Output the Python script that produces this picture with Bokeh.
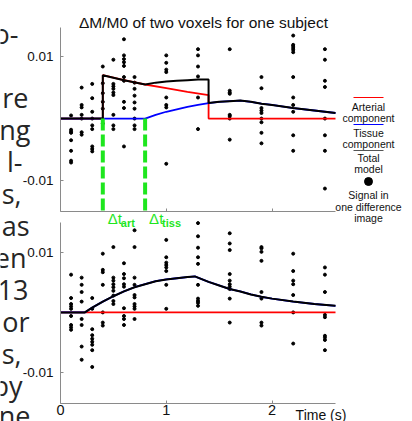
from bokeh.plotting import figure
from bokeh.models import FixedTicker, Label, LinearAxis, Range1d
from bokeh.embed import file_html
from bokeh.resources import INLINE

# ---------------- data ----------------
time_points = [0.1, 0.2, 0.3, 0.4, 0.5, 0.6, 0.7, 1.0, 1.3, 1.6, 1.9, 2.2, 2.5]

top_signal = [
    [0.0005, -0.0018, -0.0021, -0.0023, -0.0035, -0.0052, -0.0068, -0.0071],
    [0.0050, 0.0022, 0.0018, 0.0006, 0.0000, -0.0022, -0.0026],
    [0.0056, 0.0033, 0.0011, 0.0000, -0.0011, -0.0017, -0.0045, -0.0049, -0.0053],
    [0.0084, 0.0057, 0.0041, 0.0027, 0.0016, -0.0008],
    [0.0095, 0.0056, 0.0052, 0.0048, 0.0042, 0.0038, 0.0006, -0.0011, -0.0017],
    [0.0128, 0.0102, 0.0096, 0.0091, 0.0085, 0.0067, 0.0061, 0.0027, 0.0017, -0.0045],
    [0.0067, 0.0058, 0.0048, 0.0037, 0.0026, 0.0016, 0.0000, -0.0011, -0.0017],
    [0.0102, 0.0090, 0.0079, 0.0075, 0.0034, 0.0022, 0.0018, -0.0073],
    [0.0112, 0.0102, 0.0084, 0.0068, 0.0034, -0.0017],
    [0.0112, 0.0045, 0.0042, 0.0040, 0.0006, 0.0004, 0.0000, -0.0034],
    [0.0067, 0.0049, 0.0017, 0.0013, 0.0009, 0.0000, -0.0006, -0.0023, -0.0040],
    [0.0134, 0.0119, 0.0117, 0.0114, 0.0111, 0.0107, 0.0067, 0.0034, 0.0022, 0.0011, -0.0027, -0.0052],
    [0.0112, 0.0095, 0.0061, 0.0051, 0.0000, -0.0027, -0.0052, -0.0113],
]

bottom_signal = [
    [0.0063, 0.0024, 0.0014, 0.0010, 0.0006, -0.0006, -0.0021, -0.0025, -0.0029],
    [0.0058, 0.0046, 0.0034, 0.0018, -0.0011, -0.0021, -0.0057, -0.0079],
    [0.0024, 0.0006, -0.0028, -0.0038, -0.0044, -0.0049, -0.0054, -0.0063, -0.0091],
    [0.0098, 0.0071, 0.0067, 0.0046, 0.0000, -0.0017, -0.0022],
    [0.0109, 0.0058, 0.0053, 0.0047, 0.0042, 0.0036, 0.0028, 0.0019, 0.0014],
    [0.0082, 0.0064, 0.0057, 0.0047, 0.0043, 0.0007, -0.0006, -0.0011, -0.0021],
    [0.0137, 0.0109, 0.0058, 0.0046, 0.0029, 0.0025, 0.0014, 0.0010, 0.0006, -0.0011],
    [0.0121, 0.0092, 0.0083, 0.0079, 0.0075, 0.0069, 0.0046, 0.0006],
    [0.0149, 0.0127, 0.0108, 0.0092, 0.0081, 0.0046, 0.0023, 0.0019, 0.0016, 0.0011],
    [0.0132, 0.0115, 0.0104, 0.0064, 0.0053, 0.0047, 0.0043, 0.0039, 0.0023, -0.0017],
    [0.0109, 0.0107, 0.0101, 0.0086, 0.0034, 0.0023, -0.0017, -0.0022],
    [0.0098, 0.0069, 0.0053, 0.0047, 0.0029, 0.0000, -0.0052],
    [0.0075, 0.0063, 0.0034, -0.0004, -0.0008, -0.0039, -0.0042, -0.0046, -0.0063],
]

dt_art = 0.4
dt_tiss = 0.8

top_art_t = [0, 0.4, 0.4, 0.6, 0.8, 1.0, 1.2, 1.4, 1.4, 2.6]
top_art = [0, 0, 0.0070, 0.0062, 0.0055, 0.0049, 0.0043, 0.0038, 0, 0]

top_tiss_t = [0, 0.8, 0.9, 1.0, 1.1, 1.2, 1.3, 1.4, 1.5, 1.6, 1.7, 1.8, 1.9, 2.0, 2.2, 2.4, 2.6]
top_tiss = [0, 0, 0.0006, 0.0011, 0.0015, 0.0019, 0.0022, 0.0025, 0.0027, 0.0028,
            0.0029, 0.0027, 0.0024, 0.0022, 0.0017, 0.0013, 0.0009]

top_total_t = [0, 0.4, 0.4, 0.6, 0.8, 0.9, 1.0, 1.1, 1.2, 1.3, 1.4, 1.4,
               1.5, 1.6, 1.7, 1.8, 1.9, 2.0, 2.2, 2.4, 2.6]
top_total = [0, 0, 0.0070, 0.0062, 0.0055, 0.0058, 0.0060, 0.0061, 0.0062, 0.0063, 0.0063, 0.0025,
             0.0027, 0.0028, 0.0029, 0.0027, 0.0024, 0.0022, 0.0017, 0.0013, 0.0009]

bot_art_t = [0, 2.6]
bot_art = [0, 0]

bot_tiss_t = [0, 0.23, 0.3, 0.4, 0.5, 0.6, 0.7, 0.8, 0.9, 1.0, 1.1, 1.2, 1.27,
              1.4, 1.5, 1.6, 1.7, 1.8, 1.9, 2.0, 2.2, 2.4, 2.6]
bot_tiss = [0, 0, 0.0008, 0.0018, 0.0027, 0.0035, 0.0042, 0.0047, 0.0052, 0.0055, 0.0057, 0.0059, 0.0060,
            0.0051, 0.0045, 0.0039, 0.0035, 0.0030, 0.0026, 0.0023, 0.0018, 0.0014, 0.0011]

bot_total_t = [0, 0.23, 0.3, 0.4, 0.5, 0.6, 0.7, 0.8, 0.9, 1.0, 1.1, 1.2, 1.27,
               1.4, 1.5, 1.6, 1.7, 1.8, 1.9, 2.0, 2.2, 2.4, 2.6]
bot_total = [0, 0, 0.0008, 0.0018, 0.0027, 0.0035, 0.0042, 0.0047, 0.0052, 0.0055, 0.0057, 0.0059, 0.0060,
             0.0051, 0.0045, 0.0039, 0.0035, 0.0030, 0.0026, 0.0023, 0.0018, 0.0014, 0.0011]

y_tick_values = [-0.01, 0.01]
x_tick_values = [0, 1, 2]

title_text = "\u0394M/M0 of two voxels for one subject"
x_label_text = "Time (s)"
legend_texts = ["Arterial", "component", "Tissue", "component", "Total", "model",
                "Signal in", "one difference", "image"]

# fragments of the slide text that is cropped at the left edge
fragments = ["o-", "re", "ng", "l-", "s,", "as", "en", "13", "or", "s,", "by", "ne"]

# ---------------- layout (page pixels) ----------------
W, H = 412, 421
T0, T1 = 0.0, 2.6                       # time range of both plots
PX_T0, PX_T1 = 60, 335                  # page x of t = 0 and t = 2.6
TOP_Y0, TOP_Y1 = -0.0150, 0.0147        # top plot value range
PY_TOP0, PY_TOP1 = 211, 27              # page y of its bottom / top
BOT_Y0, BOT_Y1 = -0.0152, 0.0150        # bottom plot value range
PY_BOT0, PY_BOT1 = 403, 222
AXIS_GRAY = "#8a8a8a"
GREEN = "#1ee61e"
FONT = "Liberation Sans"


def page_range(v0, v1, p0, p1, lo, hi):
    """Range whose values v0/v1 land on page pixels p0/p1 of a canvas spanning lo..hi."""
    k = (v1 - v0) / (p1 - p0)
    return Range1d(v0 + (lo - p0) * k, v0 + (hi - p0) * k)


p = figure(width=W, height=H, x_range=Range1d(0, W), y_range=Range1d(H, 0),
           x_axis_location=None, y_axis_location=None, output_backend="svg",
           toolbar_location=None, title=None, min_border=0)
p.grid.visible = False
p.outline_line_color = None
p.background_fill_color = "white"
p.border_fill_color = "white"

p.extra_x_ranges = {"t": page_range(T0, T1, PX_T0, PX_T1, 0, W)}
p.extra_y_ranges = {
    "top": page_range(TOP_Y0, TOP_Y1, PY_TOP0, PY_TOP1, H, 0),
    "bot": page_range(BOT_Y0, BOT_Y1, PY_BOT0, PY_BOT1, H, 0),
}


def style_axis(ax):
    ax.axis_line_color = AXIS_GRAY
    ax.major_tick_line_color = AXIS_GRAY
    ax.major_tick_in = 3
    ax.major_tick_out = 0
    ax.minor_tick_line_color = None
    ax.major_label_text_font = FONT
    ax.major_label_text_color = "#111111"


for rname, y0, y1, show_x in [("top", TOP_Y0, TOP_Y1, False), ("bot", BOT_Y0, BOT_Y1, True)]:
    yax = LinearAxis(x_range_name="t", y_range_name=rname, fixed_location=T0, bounds=(y0, y1),
                     ticker=FixedTicker(ticks=y_tick_values))
    style_axis(yax)
    yax.major_label_overrides = {v: ("%g" % v) for v in y_tick_values}
    yax.major_label_text_font_size = "13.5px"
    yax.major_label_standoff = 7
    p.add_layout(yax, "left")

    xax = LinearAxis(x_range_name="t", y_range_name=rname, fixed_location=y0, bounds=(T0, T1),
                     ticker=FixedTicker(ticks=x_tick_values))
    style_axis(xax)
    xax.major_label_text_font_size = "14.5px"
    xax.major_label_standoff = 1
    if not show_x:
        xax.major_label_text_color = None
    p.add_layout(xax, "below")


def flatten(times, cols):
    xs, ys = [], []
    for t, col in zip(times, cols):
        for v in col:
            xs.append(t)
            ys.append(v)
    return xs, ys


# ---------------- top plot ----------------
txs, tys = flatten(time_points, top_signal)
p.scatter(txs, tys, size=3, color="black", marker="circle", x_range_name="t", y_range_name="top")
p.line(top_art_t, top_art, line_color="red", line_width=1.8, x_range_name="t", y_range_name="top")
p.line(top_tiss_t, top_tiss, line_color="blue", line_width=1.8, x_range_name="t", y_range_name="top")
p.line(top_total_t, top_total, line_color="black", line_width=2, x_range_name="t", y_range_name="top")
p.segment(x0=[dt_art, dt_tiss], y0=[0, 0], x1=[dt_art, dt_tiss], y1=[TOP_Y0, TOP_Y0],
          line_color=GREEN, line_width=4, line_dash="12 4", x_range_name="t", y_range_name="top")

# ---------------- bottom plot ----------------
bxs, bys = flatten(time_points, bottom_signal)
p.scatter(bxs, bys, size=3, color="black", marker="circle", x_range_name="t", y_range_name="bot")
p.line(bot_art_t, bot_art, line_color="red", line_width=1.8, x_range_name="t", y_range_name="bot")
p.line(bot_tiss_t, bot_tiss, line_color="blue", line_width=1.8, x_range_name="t", y_range_name="bot")
p.line(bot_total_t, bot_total, line_color="black", line_width=2, x_range_name="t", y_range_name="bot")

# ---------------- texts (page pixel positions) ----------------
p.add_layout(Label(x=203, y=22, text=title_text, text_align="center", text_baseline="alphabetic",
                   text_font=FONT, text_font_size="15.5px", text_color="#111111"))

for xv, main_off, sub, sub_off in [(dt_art, 5, "art", 18), (dt_tiss, 4, "tiss", 17)]:
    p.add_layout(Label(x=xv, x_offset=main_off, y=218, x_range_name="t", text="\u0394t",
                       text_align="left", text_baseline="alphabetic", text_font=FONT,
                       text_font_size="15px", text_color=GREEN))
    p.add_layout(Label(x=xv, x_offset=sub_off, y=222, x_range_name="t", text=sub,
                       text_align="left", text_baseline="alphabetic", text_font=FONT,
                       text_font_size="11px", text_font_style="bold", text_color=GREEN))

# legend: sample line above centred text
LEG_X = 368
p.segment(x0=[353, 353, 353], y0=[97, 124, 150], x1=[383, 383, 383], y1=[97, 124, 150],
          line_color=["red", "blue", "#555555"], line_width=1)
p.scatter(x=[LEG_X], y=[181], size=8, color="black", marker="circle")
for txt, ly in zip(legend_texts, [106, 117, 132, 143, 157, 168, 194, 206, 217]):
    p.add_layout(Label(x=LEG_X, y=ly, text=txt, text_align="center", text_baseline="middle",
                       text_font=FONT, text_font_size="10.5px", text_color="#111111"))

p.add_layout(Label(x=320.5, y=414, text=x_label_text, text_align="center",
                   text_baseline="alphabetic", text_font=FONT, text_font_size="14px",
                   text_color="#111111"))

frag_right = [18, 28, 30, 22, 21, 29, 26, 28, 29, 21, 22, 30]
frag_base = [33, 97, 129, 161, 193, 225, 257, 289, 321, 353, 385, 415]
for txt, rx, by_ in zip(fragments, frag_right, frag_base):
    p.add_layout(Label(x=rx, y=by_, text=txt, text_align="right", text_baseline="alphabetic",
                       text_font="Open Sans", text_font_size="27px", text_color="#262626"))

open("out.html", "w").write(file_html(p, INLINE))
